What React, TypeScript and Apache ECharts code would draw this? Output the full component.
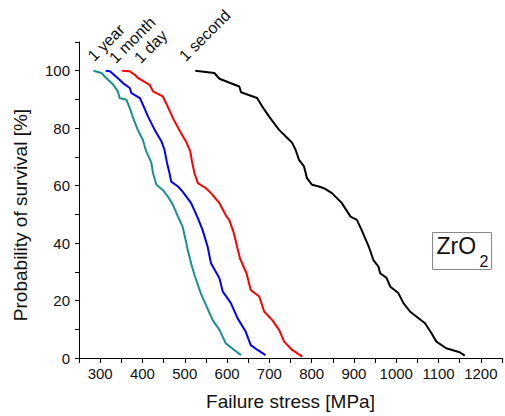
import React, { useEffect, useRef } from "react";
import * as echarts from "echarts";

// Failure stress [MPa], probability of survival [%]
const oneYear: [number, number][] = [
  [284, 100], [303, 99.2], [315, 97.4], [331, 95.1], [342, 92.8], [346, 90.5], [362, 89.9],
  [370, 87], [378, 83.5], [389, 79.4], [401, 75.9], [409, 71.9], [421, 68], [425, 64.3],
  [433, 60.3], [448, 58.5], [460, 56.2], [472, 53.3], [484, 49.2], [495, 45.7], [503, 40.5],
  [507, 37.6], [511, 35.3], [515, 33], [523, 28.9], [538, 22.5], [550, 18.5], [566, 13.2],
  [582, 9.8], [597, 5.1], [617, 2.8], [633, 1.0],
];
const oneMonth: [number, number][] = [
  [313, 100], [323, 99.8], [342, 97.4], [354, 95.7], [370, 94], [374, 92.2], [394, 90.5],
  [401, 88.2], [413, 84.1], [429, 79.4], [445, 75.4], [452, 72.5], [458, 68], [464, 64.3],
  [468, 61.4], [484, 59.7], [495, 57.9], [515, 53.9], [531, 48.7], [542, 44.6], [554, 38.8],
  [562, 33], [582, 27.8], [590, 23.1], [609, 19.1], [625, 13.8], [644, 9.2], [656, 4.5],
  [672, 2.8], [691, 1.0],
];
const oneDay: [number, number][] = [
  [352, 100], [370, 99.8], [382, 98.6], [390, 97.4], [417, 95.1], [425, 92.8], [448, 91.1],
  [456, 88.7], [472, 83.5], [491, 78.3], [503, 75.4], [513, 71.9], [517, 68.5], [523, 64.3],
  [531, 60.9], [550, 59.1], [562, 57.4], [582, 53.9], [599, 49.2], [605, 48.1], [615, 44],
  [625, 38], [631, 34.5], [646, 29.5], [656, 23.7], [676, 21.4], [688, 16.1], [707, 13.2],
  [723, 9.8], [735, 5.7], [754, 2.8], [778, 0.5],
];
const oneSecond: [number, number][] = [
  [525, 100], [570, 99.2], [582, 97.2], [629, 94.5], [633, 92.5], [671, 90.5], [683, 87.6],
  [699, 84.1], [723, 79.4], [754, 74.9], [762, 72.5], [770, 69], [782, 66.7], [789, 62.6],
  [801, 60.3], [817, 59.7], [829, 59.1], [848, 57.4], [871, 54], [892, 49.2], [907, 48.1],
  [918, 44.6], [935, 38.8], [946, 34.1], [958, 31.8], [962, 29.5], [977, 27.9], [986, 24.8],
  [1005, 22.6], [1017, 19.1], [1033, 16.1], [1068, 12.1], [1083, 8.7], [1095, 5.7],
  [1118, 3.4], [1150, 2.0], [1162, 0.8],
];

const seriesNames = ["1 year", "1 month", "1 day", "1 second"];
const seriesColors = ["#199189", "#0000ff", "#ff0000", "#000000"];
const seriesData = [oneYear, oneMonth, oneDay, oneSecond];

const FONT = "'Liberation Sans', Arial, sans-serif";

export default function App() {
  const ref = useRef<HTMLDivElement>(null);
  useEffect(() => {
    if (!ref.current) return;
    const chart = echarts.init(ref.current, null, { renderer: "svg" });
    const labelPos: [number, number][] = [
      [96, 64],
      [117.5, 66],
      [142.5, 66],
      [187.5, 64],
    ];
    chart.setOption({
      animation: false,
      backgroundColor: "#ffffff",
      grid: { left: 79, right: 1, top: 42, bottom: 58 },
      xAxis: {
        type: "value",
        min: 250,
        max: 1250,
        interval: 50,
        name: "Failure stress [MPa]",
        nameLocation: "middle",
        nameGap: 34,
        nameTextStyle: { fontSize: 19, color: "#111", fontFamily: FONT },
        axisLine: { show: true, onZero: false, lineStyle: { color: "#000", width: 1 } },
        axisTick: { show: true, length: 5, lineStyle: { color: "#000" } },
        splitLine: { show: false },
        axisLabel: {
          fontSize: 15,
          color: "#111",
          fontFamily: FONT,
          margin: 8,
          hideOverlap: false,
          formatter: (v: number) => (v % 100 === 0 && v <= 1200 ? String(v) : ""),
        },
      },
      yAxis: {
        type: "value",
        min: 0,
        max: 110,
        interval: 10,
        axisLine: { show: true, onZero: false, lineStyle: { color: "#000", width: 1 } },
        axisTick: { show: true, length: 4, lineStyle: { color: "#000" } },
        splitLine: { show: false },
        axisLabel: {
          fontSize: 15,
          color: "#111",
          fontFamily: FONT,
          margin: 9,
          hideOverlap: false,
          formatter: (v: number) => (v % 20 === 0 && v <= 100 ? String(v) : ""),
        },
      },
      series: seriesData.map((d, i) => ({
        type: "line",
        name: seriesNames[i],
        data: d,
        showSymbol: false,
        symbol: "none",
        lineStyle: { color: seriesColors[i], width: 2 },
        itemStyle: { color: seriesColors[i] },
      })),
      graphic: [
        {
          type: "text",
          x: 20,
          y: 215,
          rotation: Math.PI / 2,
          style: {
            text: "Probability of survival [%]",
            font: `19px ${FONT}`,
            fill: "#111",
            align: "center",
            verticalAlign: "middle",
            textAlign: "center",
            textVerticalAlign: "middle",
          },
        },
        ...seriesNames.map((n, i) => ({
          type: "text",
          x: labelPos[i][0],
          y: labelPos[i][1],
          rotation: Math.PI / 4,
          style: {
            text: n,
            font: `16px ${FONT}`,
            fill: "#111",
            align: "left",
            verticalAlign: "bottom",
            textAlign: "left",
            textVerticalAlign: "bottom",
          },
        })),
        {
          type: "rect",
          shape: { x: 432.5, y: 232.5, width: 59, height: 37 },
          style: { fill: "#ffffff", stroke: "#888888", lineWidth: 1 },
        },
        {
          type: "text",
          x: 436.5,
          y: 257,
          style: {
            text: "ZrO",
            font: `23px ${FONT}`,
            fill: "#111",
            align: "left",
            verticalAlign: "bottom",
            textAlign: "left",
            textVerticalAlign: "bottom",
          },
        },
        {
          type: "text",
          x: 479.5,
          y: 269,
          style: {
            text: "2",
            font: `16px ${FONT}`,
            fill: "#111",
            align: "left",
            verticalAlign: "bottom",
            textAlign: "left",
            textVerticalAlign: "bottom",
          },
        },
      ],
    });
    return () => chart.dispose();
  }, []);
  return (
    <div
      ref={ref}
      style={{ position: "fixed", left: 0, top: 0, width: 505, height: 416 }}
    />
  );
}
